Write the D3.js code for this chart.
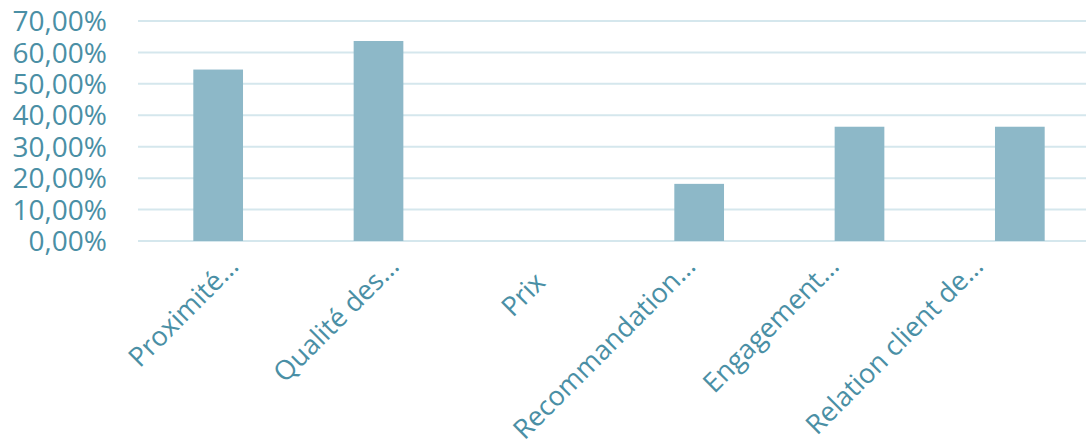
<!DOCTYPE html>
<html>
<head>
<meta charset="utf-8">
<script src="https://cdn.jsdelivr.net/npm/d3@7"></script>
<style>
  body { margin: 0; background: #fff; }
  text { font-family: "Open Sans", sans-serif; fill: #4a8fa5; }
</style>
</head>
<body>
<script>
var categories = ["Proximité…", "Qualité des…", "Prix", "Recommandation…", "Engagement…", "Relation client de…"];
var values = [0.5455, 0.6364, 0, 0.1818, 0.3636, 0.3636];
var tickValues = [0, 0.1, 0.2, 0.3, 0.4, 0.5, 0.6, 0.7];

// where each rotated label ends, relative to its bar centre (Excel shifts truncated labels)
var labelDx = [22, 22, 8, -2, -19, -35];
var labelY = [268, 268, 284, 268, 268, 268];

var width = 1086,
    height = 443;

var svg = d3.select("body").append("svg").attr("width", width).attr("height", height);

var x = d3.scaleBand().domain(categories).range([138, 1100]).paddingInner(0.69).paddingOuter(0.345);
var y = d3.scaleLinear().domain([0, 0.7]).range([241, 21]);
var fmt = v => d3.format(".2f")(v * 100).replace(".", ",") + "%";

// gridlines
svg.selectAll("line.grid").data(tickValues).enter()
    .append("line")
    .attr("x1", 138).attr("x2", width)
    .attr("y1", d => y(d)).attr("y2", d => y(d))
    .attr("stroke", "#d5e7ed").attr("stroke-width", 2);

// y labels
svg.selectAll("text.ytick").data(tickValues).enter()
    .append("text")
    .attr("x", 107)
    .attr("y", d => y(d))
    .attr("dy", "0.36em")
    .attr("text-anchor", "end")
    .style("font-size", "28px")
    .text(fmt);

// bars
svg.selectAll("rect").data(values).enter()
    .append("rect")
    .attr("x", (d, i) => x(categories[i]))
    .attr("width", x.bandwidth())
    .attr("y", d => y(d))
    .attr("height", d => y(0) - y(d))
    .attr("fill", "#8db8c8");

// x labels
svg.selectAll("text.xtick").data(categories).enter()
    .append("text")
    .attr("text-anchor", "end")
    .attr("transform", (d, i) => "translate(" + (x(d) + x.bandwidth() / 2 + labelDx[i]) + "," + labelY[i] + ") rotate(-45)")
    .style("font-size", "27px")
    .text(d => d);
</script>
</body>
</html>
